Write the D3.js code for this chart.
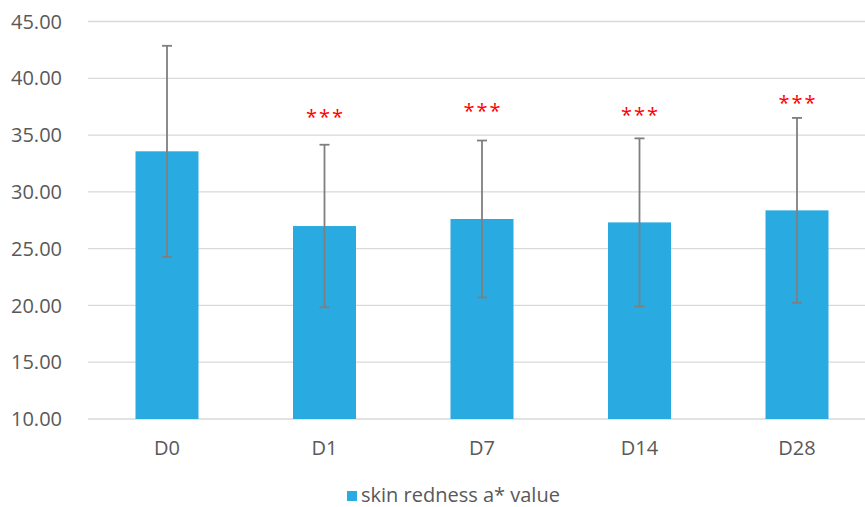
<!DOCTYPE html>
<html>
<head>
<meta charset="utf-8">
<script src="https://cdn.jsdelivr.net/npm/d3@7"></script>
<style>
  html, body { margin: 0; padding: 0; background: #ffffff; }
  svg { display: block; font-family: "Open Sans", sans-serif; }
</style>
</head>
<body>
<svg id="chart" width="865" height="507"></svg>
<script>
// Skin redness (a* value) per visit, mean ± SD
const days = ["D0", "D1", "D7", "D14", "D28"];
const meanValues = [33.57, 26.99, 27.61, 27.31, 28.37];
const sdValues = [9.29, 7.16, 6.91, 7.40, 8.14];
// significance markers and the level each marker is centred on
const sigLabels = ["", "***", "***", "***", "***"];
const sigLevels = [null, 36.94, 37.47, 37.14, 38.17];
const yTicks = [10, 15, 20, 25, 30, 35, 40, 45];
const seriesName = "skin redness a* value";

const svg = d3.select("#chart");
const barColor = "#29abe2";
const textColor = "#595959";

const x = d3.scaleBand()
  .domain(days)
  .range([88.25, 875.75])
  .paddingInner(0.6)
  .paddingOuter(0.3);

const y = d3.scaleLinear()
  .domain([10, 45])
  .range([419, 21.5]);

// horizontal gridlines
svg.append("g")
  .selectAll("line")
  .data(yTicks)
  .join("line")
  .attr("x1", 88)
  .attr("x2", 876)
  .attr("y1", d => y(d))
  .attr("y2", d => y(d))
  .attr("stroke", "#d9d9d9")
  .attr("stroke-width", 1.3);

// y tick labels
svg.append("g")
  .selectAll("text")
  .data(yTicks)
  .join("text")
  .attr("x", 62)
  .attr("y", d => y(d))
  .attr("dy", "0.36em")
  .attr("text-anchor", "end")
  .attr("font-size", 20)
  .attr("fill", textColor)
  .text(d => d3.format(".2f")(d));

const rows = days.map((d, i) => ({ day: d, mean: meanValues[i], sd: sdValues[i], sig: sigLabels[i], lvl: sigLevels[i] }));

// bars
svg.append("g")
  .selectAll("rect")
  .data(rows)
  .join("rect")
  .attr("x", d => x(d.day))
  .attr("width", x.bandwidth())
  .attr("y", d => y(d.mean))
  .attr("height", d => y(10) - y(d.mean))
  .attr("fill", barColor);

// error bars
const err = svg.append("g")
  .attr("stroke", "#7f7f7f")
  .attr("stroke-width", 1.8);
const cx = d => x(d.day) + x.bandwidth() / 2;
err.selectAll("line.v")
  .data(rows)
  .join("line")
  .attr("class", "v")
  .attr("x1", cx).attr("x2", cx)
  .attr("y1", d => y(d.mean + d.sd))
  .attr("y2", d => y(d.mean - d.sd));
err.selectAll("line.t")
  .data(rows)
  .join("line")
  .attr("class", "t")
  .attr("x1", d => cx(d) - 5).attr("x2", d => cx(d) + 5)
  .attr("y1", d => y(d.mean + d.sd))
  .attr("y2", d => y(d.mean + d.sd));
err.selectAll("line.b")
  .data(rows)
  .join("line")
  .attr("class", "b")
  .attr("x1", d => cx(d) - 5).attr("x2", d => cx(d) + 5)
  .attr("y1", d => y(d.mean - d.sd))
  .attr("y2", d => y(d.mean - d.sd));

// significance markers
svg.append("g")
  .selectAll("text")
  .data(rows.filter(d => d.sig))
  .join("text")
  .attr("x", d => cx(d) + 1)
  .attr("y", d => y(d.lvl))
  .attr("dy", "0.57em")
  .attr("text-anchor", "middle")
  .attr("font-size", 20)
  .attr("letter-spacing", "2px")
  .attr("fill", "#ff0000")
  .text(d => d.sig);

// x category labels
svg.append("g")
  .selectAll("text")
  .data(days)
  .join("text")
  .attr("x", d => x(d) + x.bandwidth() / 2)
  .attr("y", 455)
  .attr("text-anchor", "middle")
  .attr("font-size", 20)
  .attr("fill", textColor)
  .text(d => d);

// legend
const legend = svg.append("g");
legend.append("rect")
  .attr("x", 347)
  .attr("y", 491)
  .attr("width", 10)
  .attr("height", 10)
  .attr("fill", barColor);
legend.append("text")
  .attr("x", 361)
  .attr("y", 502)
  .attr("font-size", 20)
  .attr("fill", textColor)
  .text(seriesName);
</script>
</body>
</html>
